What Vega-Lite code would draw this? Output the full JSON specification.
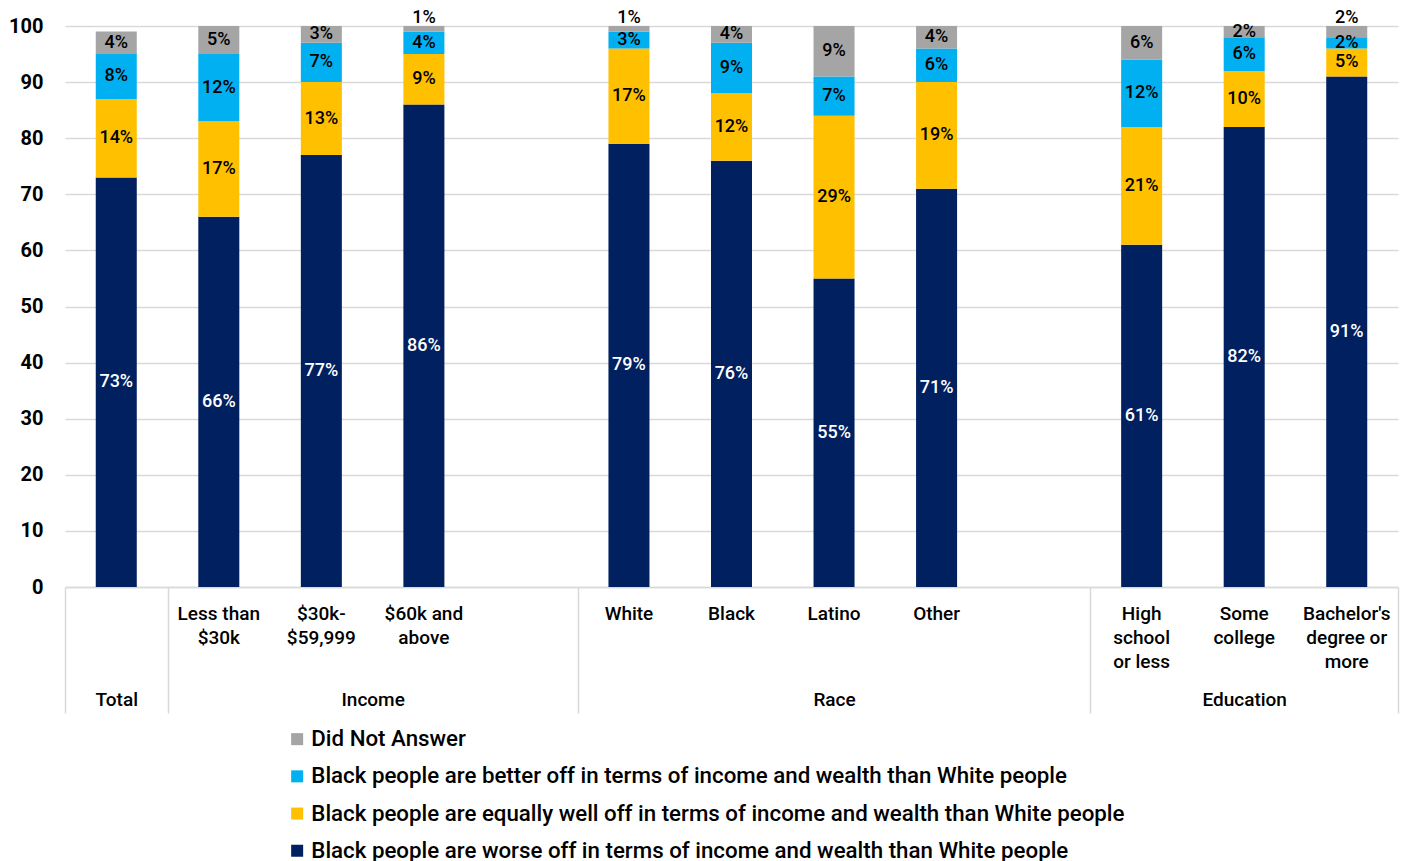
{
  "$schema": "https://vega.github.io/schema/vega-lite/v6.json",
  "width": 1333,
  "height": 561,
  "autosize": {"type": "none"},
  "padding": {"left": 65, "top": 26, "right": 8, "bottom": 274},
  "config": {
    "view": {"stroke": null},
    "font": "Roboto",
    "axis": {"labelFont": "Roboto", "labelColor": "#000000"},
    "legend": {"labelFont": "Roboto"}
  },
  "datasets": {
    "survey": [
      {"cat": "Total", "r": "worse", "value": 73, "label": "73%"},
      {"cat": "Total", "r": "equal", "value": 14, "label": "14%"},
      {"cat": "Total", "r": "better", "value": 8, "label": "8%"},
      {"cat": "Total", "r": "dna", "value": 4, "label": "4%"},
      {"cat": "Less than $30k", "r": "worse", "value": 66, "label": "66%"},
      {"cat": "Less than $30k", "r": "equal", "value": 17, "label": "17%"},
      {"cat": "Less than $30k", "r": "better", "value": 12, "label": "12%"},
      {"cat": "Less than $30k", "r": "dna", "value": 5, "label": "5%"},
      {"cat": "$30k-$59,999", "r": "worse", "value": 77, "label": "77%"},
      {"cat": "$30k-$59,999", "r": "equal", "value": 13, "label": "13%"},
      {"cat": "$30k-$59,999", "r": "better", "value": 7, "label": "7%"},
      {"cat": "$30k-$59,999", "r": "dna", "value": 3, "label": "3%"},
      {"cat": "$60k and above", "r": "worse", "value": 86, "label": "86%"},
      {"cat": "$60k and above", "r": "equal", "value": 9, "label": "9%"},
      {"cat": "$60k and above", "r": "better", "value": 4, "label": "4%"},
      {"cat": "$60k and above", "r": "dna", "value": 1, "label": "1%"},
      {"cat": "White", "r": "worse", "value": 79, "label": "79%"},
      {"cat": "White", "r": "equal", "value": 17, "label": "17%"},
      {"cat": "White", "r": "better", "value": 3, "label": "3%"},
      {"cat": "White", "r": "dna", "value": 1, "label": "1%"},
      {"cat": "Black", "r": "worse", "value": 76, "label": "76%"},
      {"cat": "Black", "r": "equal", "value": 12, "label": "12%"},
      {"cat": "Black", "r": "better", "value": 9, "label": "9%"},
      {"cat": "Black", "r": "dna", "value": 3, "label": "4%"},
      {"cat": "Latino", "r": "worse", "value": 55, "label": "55%"},
      {"cat": "Latino", "r": "equal", "value": 29, "label": "29%"},
      {"cat": "Latino", "r": "better", "value": 7, "label": "7%"},
      {"cat": "Latino", "r": "dna", "value": 9, "label": "9%"},
      {"cat": "Other", "r": "worse", "value": 71, "label": "71%"},
      {"cat": "Other", "r": "equal", "value": 19, "label": "19%"},
      {"cat": "Other", "r": "better", "value": 6, "label": "6%"},
      {"cat": "Other", "r": "dna", "value": 4, "label": "4%"},
      {"cat": "High school or less", "r": "worse", "value": 61, "label": "61%"},
      {"cat": "High school or less", "r": "equal", "value": 21, "label": "21%"},
      {"cat": "High school or less", "r": "better", "value": 12, "label": "12%"},
      {"cat": "High school or less", "r": "dna", "value": 6, "label": "6%"},
      {"cat": "Some college", "r": "worse", "value": 82, "label": "82%"},
      {"cat": "Some college", "r": "equal", "value": 10, "label": "10%"},
      {"cat": "Some college", "r": "better", "value": 6, "label": "6%"},
      {"cat": "Some college", "r": "dna", "value": 2, "label": "2%"},
      {"cat": "Bachelor's degree or more", "r": "worse", "value": 91, "label": "91%"},
      {"cat": "Bachelor's degree or more", "r": "equal", "value": 5, "label": "5%"},
      {"cat": "Bachelor's degree or more", "r": "better", "value": 2, "label": "2%"},
      {"cat": "Bachelor's degree or more", "r": "dna", "value": 2, "label": "2%"}
    ]
  },
  "resolve": {"scale": {"x": "independent"}, "axis": {"x": "independent"}},
  "layer": [
    {
      "data": {"name": "survey"},
      "transform": [
        {"calculate": "indexof(['worse','equal','better','dna'], datum.r)", "as": "rank"}
      ],
      "layer": [
        {
          "mark": {"type": "bar"},
          "encoding": {
            "x": {
              "field": "cat",
              "type": "nominal",
              "sort": null,
              "scale": {
                "domain": ["Total", "Less than $30k", "$30k-$59,999", "$60k and above", "gap1", "White", "Black", "Latino", "Other", "gap2", "High school or less", "Some college", "Bachelor's degree or more"],
                "paddingInner": 0.6,
                "paddingOuter": 0.3
              },
              "axis": {
                "orient": "bottom",
                "title": null,
                "ticks": false,
                "domain": true,
                "domainColor": "#d9d9d9",
                "domainWidth": 1.5,
                "labelAngle": 0,
                "labelFontSize": 19,
                "labelFontWeight": 500,
                "labelPadding": 17,
                "labelBaseline": "top",
                "labelLineHeight": 24,
                "labelLimit": 0,
                "labelOverlap": false,
                "labelExpr": "datum.value == 'Less than $30k' ? ['Less than', '$30k'] : datum.value == '$30k-$59,999' ? ['$30k-', '$59,999'] : datum.value == '$60k and above' ? ['$60k and', 'above'] : datum.value == 'High school or less' ? ['High', 'school', 'or less'] : datum.value == 'Some college' ? ['Some', 'college'] : datum.value == \"Bachelor's degree or more\" ? [\"Bachelor's\", 'degree or', 'more'] : (datum.value == 'Total' || datum.value == 'gap1' || datum.value == 'gap2') ? '' : datum.value"
              }
            },
            "y": {
              "field": "value",
              "type": "quantitative",
              "stack": "zero",
              "scale": {"domain": [0, 100], "nice": false},
              "axis": {
                "title": null,
                "values": [0, 10, 20, 30, 40, 50, 60, 70, 80, 90, 100],
                "domain": false,
                "ticks": false,
                "grid": true,
                "gridColor": "#d9d9d9",
                "gridWidth": 1.5,
                "labelFontSize": 20,
                "labelFontWeight": "bold",
                "labelPadding": 22
              }
            },
            "color": {
              "field": "r",
              "type": "nominal",
              "scale": {
                "domain": ["dna", "better", "equal", "worse"],
                "range": ["#A5A5A5", "#00B0F0", "#FFC000", "#002060"]
              },
              "legend": {
                "title": null,
                "orient": "none",
                "legendX": 221,
                "legendY": 702,
                "direction": "vertical",
                "symbolType": "square",
                "symbolSize": 144,
                "symbolStrokeWidth": 0,
                "labelFontSize": 22.3,
                "labelFontWeight": 500,
                "labelOffset": 3,
                "labelLimit": 0,
                "rowPadding": 14.2,
                "labelExpr": "datum.label == 'dna' ? 'Did Not Answer' : datum.label == 'better' ? 'Black people are better off in terms of income and wealth than White people' : datum.label == 'equal' ? 'Black people are equally well off in terms of income and wealth than White people' : 'Black people are worse off in terms of income and wealth than White people'"
              }
            },
            "order": {"field": "rank", "type": "quantitative"}
          }
        },
        {
          "transform": [
            {"stack": "value", "groupby": ["cat"], "sort": [{"field": "rank", "order": "ascending"}], "as": ["y0", "y1"]},
            {"window": [{"op": "lag", "field": "value", "as": "prev"}], "groupby": ["cat"], "sort": [{"field": "rank", "order": "ascending"}]},
            {"calculate": "(datum.r == 'dna' && (datum.value <= 1 || datum.prev <= 2)) ? datum.y1 + 1.5 : (datum.y0 + datum.y1) / 2", "as": "mid"}
          ],
          "mark": {"type": "text", "fontSize": 18, "fontWeight": 500, "baseline": "middle", "align": "center"},
          "encoding": {
            "x": {"field": "cat", "type": "nominal", "sort": null},
            "y": {"field": "mid", "type": "quantitative"},
            "text": {"field": "label"},
            "color": {
              "condition": {"test": "datum.r == 'worse'", "value": "#ffffff"},
              "value": "#000000"
            }
          }
        }
      ]
    },
    {
      "data": {"values": [{}]},
      "mark": {"type": "rule", "opacity": 0},
      "encoding": {
        "x": {
          "datum": 0,
          "type": "quantitative",
          "scale": {"domain": [0, 13], "nice": false, "zero": false},
          "axis": {
            "orient": "bottom",
            "title": null,
            "values": [0.5, 3, 7.5, 11.5],
            "ticks": false,
            "domain": false,
            "grid": false,
            "labelFontSize": 19,
            "labelFontWeight": 500,
            "labelPadding": 103,
            "labelBaseline": "top",
            "labelFlush": false,
            "labelOverlap": false,
            "labelExpr": "datum.value == 0.5 ? 'Total' : datum.value == 3 ? 'Income' : datum.value == 7.5 ? 'Race' : 'Education'"
          }
        }
      }
    },
    {
      "data": {"values": [{}]},
      "mark": {"type": "rule", "opacity": 0},
      "encoding": {
        "x": {
          "datum": 0,
          "type": "quantitative",
          "scale": {"domain": [0, 13], "nice": false, "zero": false},
          "axis": {
            "orient": "bottom",
            "title": null,
            "values": [0, 1, 5, 10, 13],
            "ticks": true,
            "tickSize": 126,
            "tickColor": "#d9d9d9",
            "tickWidth": 1.5,
            "domain": false,
            "grid": false,
            "labels": false
          }
        }
      }
    }
  ]
}
